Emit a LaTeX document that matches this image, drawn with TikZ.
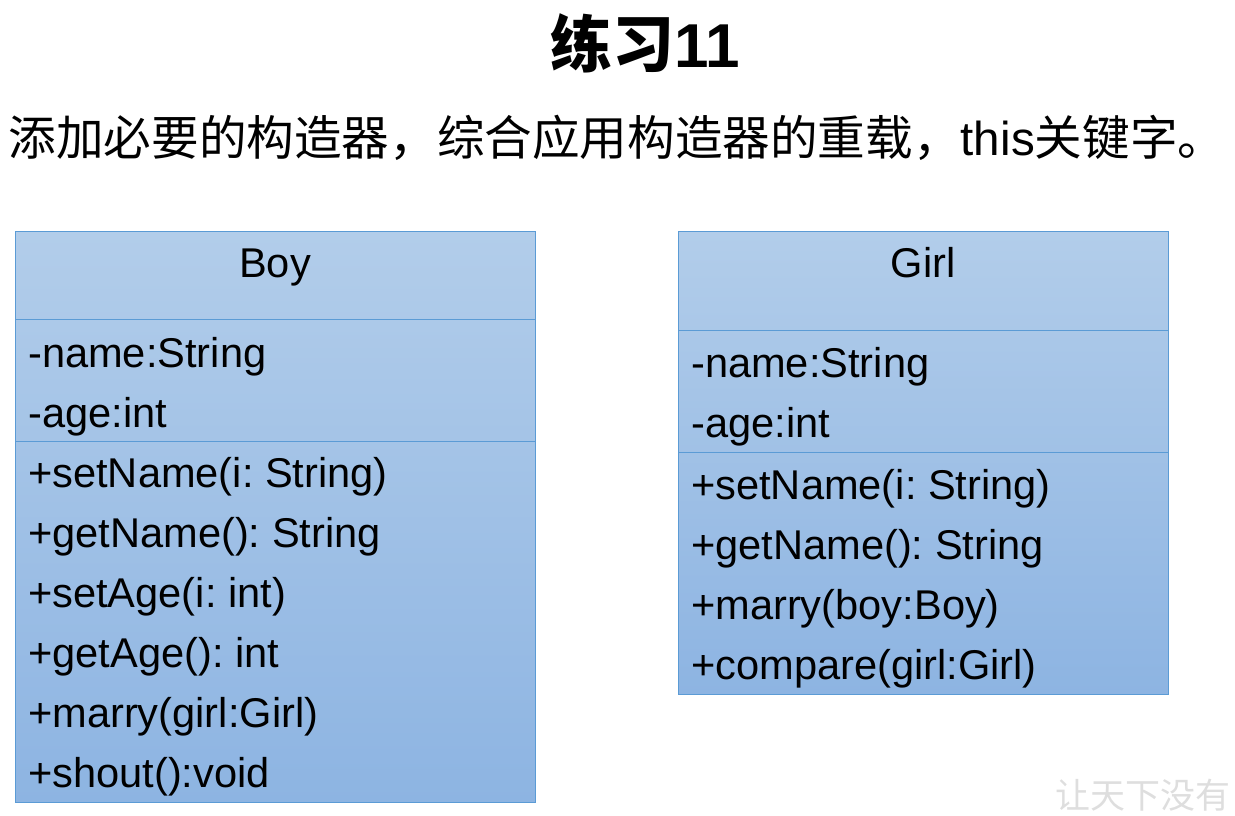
\documentclass[tikz,border=0pt]{standalone}
\usepackage{fontspec}
\setmainfont{Liberation Sans}
\newfontfamily\cjk{Noto Sans CJK SC}
\usetikzlibrary{positioning}
\frenchspacing

\definecolor{umltop}{RGB}{178,205,234}
\definecolor{umlbot}{RGB}{141,180,226}
\definecolor{umlline}{RGB}{91,155,213}
\definecolor{markgray}{RGB}{222,222,222}

\tikzset{
	umlbox/.style={top color=umltop, bottom color=umlbot, draw=umlline, line width=1pt, inner sep=0pt, anchor=north west},
	member/.style={anchor=base west, inner sep=0pt, font=\fontsize{41.6}{48}\selectfont},
	classname/.style={anchor=base, inner sep=0pt, font=\fontsize{41.6}{48}\selectfont},
}

\begin{document}
\begin{tikzpicture}[x=1pt, y=-1pt]
		\useasboundingbox (0,0) rectangle (1235,816);

		% heading
		\node[anchor=base, inner sep=0pt, font=\bfseries\fontsize{62}{70}\selectfont] (title) at (645,67) {{\cjk 练习}11};
		\node[anchor=base, inner sep=0pt, font=\fontsize{47.6}{55}\selectfont] (task) at (617,155)
			{{\cjk 添加必要的构造器，综合应用构造器的重载，}this{\cjk 关键字。}};

		% class Boy
		\node[umlbox, minimum width=520pt, minimum height=571pt] (boy) at (15,231) {};
		\draw[umlline] ([yshift=-88pt]boy.north west) -- ([yshift=-88pt]boy.north east);
		\draw[umlline] ([yshift=-210pt]boy.north west) -- ([yshift=-210pt]boy.north east);
		\node[classname] (boy-name) at (275,277) {Boy};
		\foreach \txt [count=\i] in {-name:String, -age:int}
			\node[member] (boy-a\i) at (28,307+60*\i) {\txt};
		\foreach \txt [count=\i] in {+setName(i: String), +getName(): String, +setAge(i: int),
				+getAge(): int, +marry(girl:Girl), +shout():void}
			\node[member] (boy-m\i) at (28,427+60*\i) {\txt};

		% class Girl
		\node[umlbox, minimum width=490pt, minimum height=463pt] (girl) at (678,231) {};
		\draw[umlline] ([yshift=-99pt]girl.north west) -- ([yshift=-99pt]girl.north east);
		\draw[umlline] ([yshift=-221pt]girl.north west) -- ([yshift=-221pt]girl.north east);
		\node[classname] (girl-name) at (923,277) {Girl};
		\foreach \txt [count=\i] in {-name:String, -age:int}
			\node[member] (girl-a\i) at (691,317+60*\i) {\txt};
		\foreach \txt [count=\i] in {+setName(i: String), +getName(): String, +marry(boy:Boy),
				+compare(girl:Girl)}
			\node[member] (girl-m\i) at (691,439+60*\i) {\txt};

		% watermark
		\node[anchor=base, inner sep=0pt, text=markgray, font=\cjk\fontsize{35}{38}\selectfont] (mark) at (1143,808) {让天下没有};
\end{tikzpicture}
\end{document}
